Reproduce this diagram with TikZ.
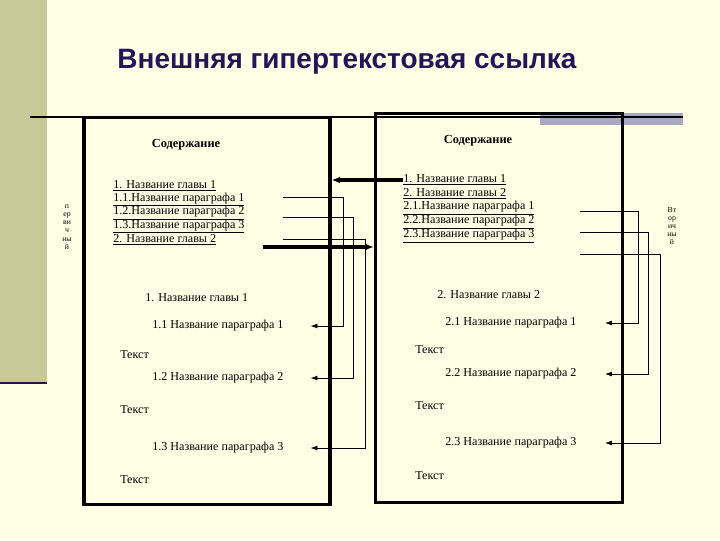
\documentclass[tikz,border=0pt]{standalone}
\usepackage{fontspec}
\setmainfont{Liberation Serif}
\newfontfamily\headfont{Liberation Sans}
\usetikzlibrary{arrows.meta}

\definecolor{slidebg}{RGB}{255,255,229}
\definecolor{stripe}{RGB}{200,200,152}
\definecolor{barfill}{RGB}{168,168,192}
\definecolor{titleink}{RGB}{36,20,90}
\definecolor{rulepurple}{RGB}{48,16,64}

\tikzset{
  docbox/.style={draw, line width=2.4pt, inner sep=0pt},
  toc/.style={anchor=west, inner sep=0pt, font=\fontsize{8.6}{10}\selectfont},
  body/.style={anchor=west, inner sep=0pt, font=\fontsize{8.6}{10}\selectfont},
  head/.style={inner sep=0pt, font=\bfseries\fontsize{8.8}{10}\selectfont},
  side/.style={align=center, inner sep=0pt, font=\fontsize{5.5}{5.8}\selectfont},
  link/.style={-{Latex[length=5pt,width=3.5pt]}, line width=0.6pt},
  jump/.style={-{Latex[length=6pt,width=5pt]}, line width=2.4pt}
}

\begin{document}
\begin{tikzpicture}[x=0.025cm,y=-0.025cm]
  \fill[slidebg] (0,0) rectangle (720,540);
  \useasboundingbox (0,0) rectangle (720,540);
  % slide decoration
  \fill[stripe] (0,0) rectangle (47,383);
  \draw[rulepurple,line width=2pt] (0,383) -- (47,383);
  \fill[barfill] (540,113) rectangle (683,125);
  \draw[line width=1.4pt] (30,117) -- (683,117);
  \node[font=\headfont\bfseries\fontsize{19.9}{23}\selectfont, text=titleink] (title) at (347,62) {Внешняя гипертекстовая ссылка};

  % the two documents
  \node[docbox, minimum width=6.15cm, minimum height=9.68cm] (L) at (207,311) {};
  \node[docbox, minimum width=6.18cm, minimum height=9.73cm] (R) at (499,308) {};

  % first document
  \node[head] (L-head) at (186,145) {Содержание};
  \foreach \i/\t in {1/{1. Название главы 1},2/{1.1.Название параграфа 1},3/{1.2.Название параграфа 2},4/{1.3.Название параграфа 3},5/{2. Название главы 2}}
    \node[toc] (L-t\i) at (113,172.5+13.5*\i) {\underline{\t}};
  \node[body] (L-c) at (145,298) {1. Название главы 1};
  \node[body] (L-p1) at (152,326) {1.1 Название параграфа 1};
  \node[body] (L-x1) at (120,355) {Текст};
  \node[body] (L-p2) at (152,378) {1.2 Название параграфа 2};
  \node[body] (L-x2) at (120,410) {Текст};
  \node[body] (L-p3) at (152,448) {1.3 Название параграфа 3};
  \node[body] (L-x3) at (120,480) {Текст};
  \node[side] (L-side) at (67,227) {п\\ер\\ви\\ч\\ны\\й};

  % second document
  \node[head] (R-head) at (478,141) {Содержание};
  \foreach \i/\t in {1/{1. Название главы 1},2/{2. Название главы 2},3/{2.1.Название параграфа 1},4/{2.2.Название параграфа 2},5/{2.3.Название параграфа 3}}
    \node[toc] (R-t\i) at (403,166+14*\i) {\underline{\t}};
  \node[body] (R-c) at (437,295) {2. Название главы 2};
  \node[body] (R-p1) at (445,323) {2.1 Название параграфа 1};
  \node[body] (R-x1) at (415,350) {Текст};
  \node[body] (R-p2) at (445,374) {2.2 Название параграфа 2};
  \node[body] (R-x2) at (415,406) {Текст};
  \node[body] (R-p3) at (445,443) {2.3 Название параграфа 3};
  \node[body] (R-x3) at (415,476) {Текст};
  \node[side] (R-side) at (672,226) {Вт\\ор\\ич\\ны\\й};

  % links inside each document
  \coordinate (L-s1) at (283,197);
  \coordinate (L-s2) at (283,217);
  \coordinate (L-s3) at (283,239);
  \foreach \i/\d in {1/60,2/70,3/82}
    \draw[link] (L-s\i) -- ++(\d,0) |- ([xshift=19pt]L-p\i.east);
  \coordinate (R-s1) at (580,211);
  \coordinate (R-s2) at (580,232);
  \coordinate (R-s3) at (580,254);
  \foreach \i/\d in {1/58,2/68,3/80}
    \draw[link] (R-s\i) -- ++(\d,0) |- ([xshift=20pt]R-p\i.east);

  % links between the documents
  \draw[jump] (R-t1.west) -- (R-t1.west -| L.east);
  \coordinate (L-s4) at (263,247);
  \draw[jump] (L-s4) -- (L-s4 -| R.west);
\end{tikzpicture}
\end{document}
